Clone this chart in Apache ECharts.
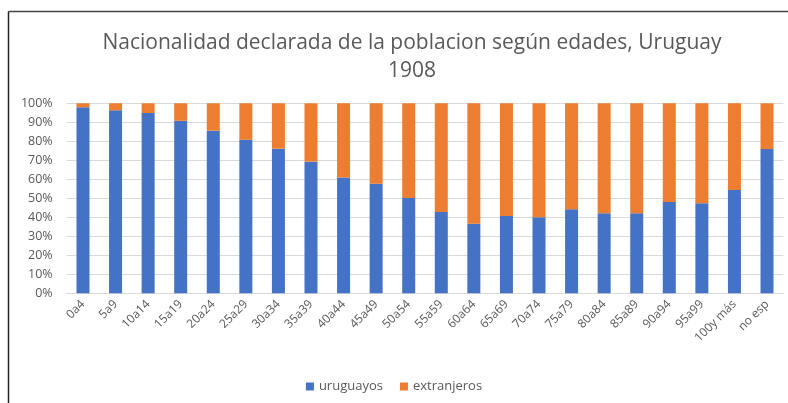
<!DOCTYPE html>
<html><head><meta charset="utf-8">
<script src="https://cdn.jsdelivr.net/npm/echarts@6/dist/echarts.min.js"></script>
<style>html,body{margin:0;padding:0;background:#fff}#c{width:788px;height:403px}</style>
</head><body><div id="c"></div>
<script>
var categories = ['0a4','5a9','10a14','15a19','20a24','25a29','30a34','35a39','40a44','45a49','50a54','55a59','60a64','65a69','70a74','75a79','80a84','85a89','90a94','95a99','100y más','no esp'];
var uruguayos = [97.9,96.3,94.9,90.8,85.6,80.8,76.1,69.3,61.0,57.7,50.2,42.8,36.6,40.7,40.0,44.2,42.1,42.1,48.1,47.4,54.4,75.9];
var extranjeros = [2.1,3.7,5.1,9.2,14.4,19.2,23.9,30.7,39.0,42.3,49.8,57.2,63.4,59.3,60.0,55.8,57.9,57.9,51.9,52.6,45.6,24.1];
var yTicks = [0,10,20,30,40,50,60,70,80,90,100];
var titleText = 'Nacionalidad declarada de la poblacion según edades, Uruguay\n1908';

var chart = echarts.init(document.getElementById('c'));
var font = 'Open Sans';
chart.setOption({
  animation: false,
  textStyle: {fontFamily: font},
  title: {
    text: titleText, left: 407, top: 24, textAlign: 'center',
    textStyle: {fontFamily: font, fontSize: 21, fontWeight: 'normal', color: '#595959', lineHeight: 28}
  },
  graphic: [
    {type: 'line', shape: {x1: 8.5, y1: 11.5, x2: 788, y2: 11.5}, style: {stroke: '#444', lineWidth: 1.5}},
    {type: 'line', shape: {x1: 8.5, y1: 11.5, x2: 8.5, y2: 403}, style: {stroke: '#222', lineWidth: 1.5}}
  ],
  legend: {
    data: ['uruguayos','extranjeros'], left: 'center', top: 375,
    itemWidth: 8, itemHeight: 8, itemGap: 17, icon: 'rect',
    textStyle: {fontSize: 13, color: '#595959', fontFamily: font}
  },
  grid: {left: 66.7, right: 4.7, top: 103.3, bottom: 109.7, containLabel: false},
  xAxis: {
    type: 'category', data: categories,
    axisTick: {show: false},
    axisLine: {lineStyle: {color: '#d9d9d9'}},
    axisLabel: {rotate: 45, interval: 0, color: '#595959', fontSize: 12, margin: 9, fontFamily: font}
  },
  yAxis: {
    type: 'value', min: 0, max: 100, interval: 10,
    axisLabel: {formatter: function(v){return yTicks.indexOf(v) >= 0 ? v + '%' : '';}, color: '#595959', fontSize: 12.5, margin: 14, fontFamily: font},
    splitLine: {lineStyle: {color: '#d9d9d9'}},
    axisLine: {show: false}, axisTick: {show: false}
  },
  series: [
    {name: 'uruguayos', type: 'bar', stack: 't', data: uruguayos, barWidth: 13, itemStyle: {color: '#4472C4'}},
    {name: 'extranjeros', type: 'bar', stack: 't', data: extranjeros, barWidth: 13, itemStyle: {color: '#ED7D31'}}
  ]
});
</script></body></html>
